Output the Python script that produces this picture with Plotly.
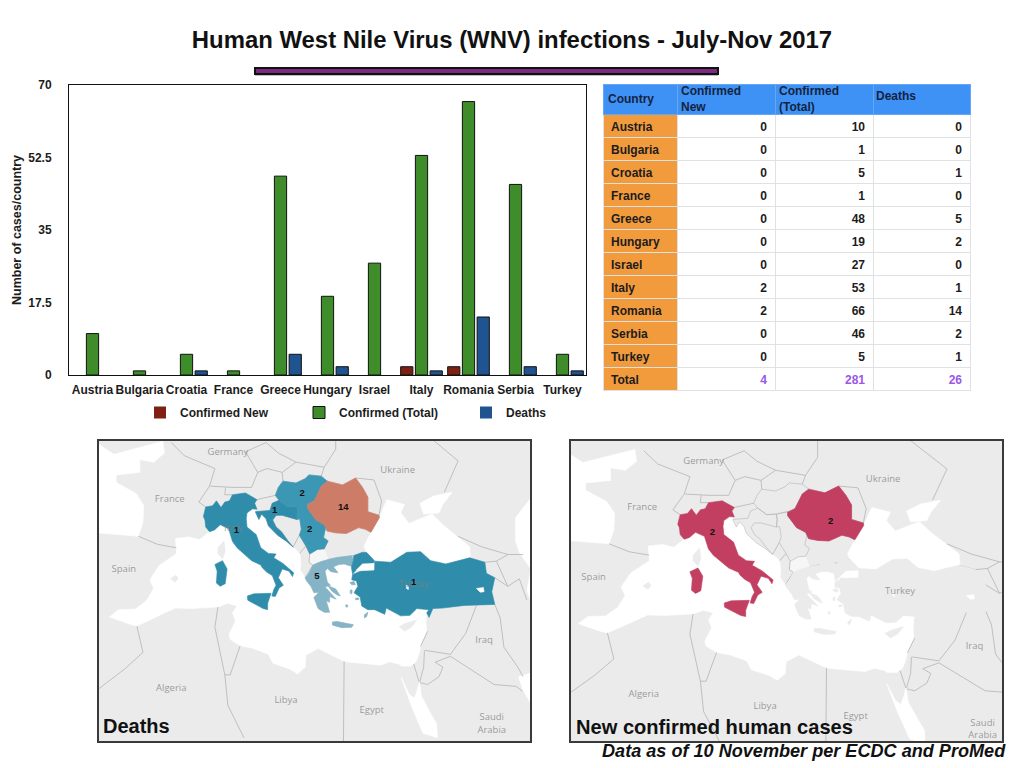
import math

import plotly.graph_objects as go

# chart data
countries = ["Austria", "Bulgaria", "Croatia", "France", "Greece", "Hungary", "Israel", "Italy", "Romania", "Serbia", "Turkey"]
confirmed_new = [0, 0, 0, 0, 0, 0, 0, 2, 2, 0, 0]
confirmed_total = [10, 1, 5, 1, 48, 19, 27, 53, 66, 46, 5]
deaths = [0, 0, 1, 0, 5, 2, 0, 1, 14, 2, 1]
y_ticks = [0, 17.5, 35, 52.5, 70]

totals = ["4", "281", "26"]
header_labels = ["Country", "Confirmed<br>New", "Confirmed<br>(Total)", "Deaths"]

# map outlines, (lon, lat)
italy = [(7.5, 43.8), (7.0, 44.2), (6.9, 44.8), (6.7, 45.1), (7.0, 45.9), (7.9, 46.0), (8.4, 46.4), (9.0, 45.85), (9.5, 46.3),
         (10.1, 46.4), (10.5, 46.9), (12.2, 47.05), (13.7, 46.5), (13.4, 46.2), (13.7, 45.7), (13.1, 45.75), (12.4, 45.4),
         (12.3, 44.9), (12.4, 44.2), (13.6, 43.55), (14.2, 42.4), (15.2, 41.9), (16.2, 41.85), (15.9, 41.5), (17.1, 41.0),
         (18.5, 40.15), (18.35, 39.8), (17.9, 40.3), (17.0, 40.5), (16.6, 39.9), (16.5, 39.7), (17.15, 39.0), (16.6, 38.75),
         (16.1, 37.95), (15.65, 38.0), (15.9, 38.6), (16.2, 39.0), (15.7, 39.9), (15.0, 40.2), (14.4, 40.6), (14.2, 40.85),
         (13.0, 41.25), (12.2, 41.75), (11.1, 42.4), (10.5, 42.95), (10.2, 43.6), (10.0, 44.05), (8.9, 44.4), (8.15, 43.95)]
sicily = [(12.45, 38.0), (13.3, 38.2), (15.55, 38.25), (15.1, 37.3), (15.1, 36.7), (14.5, 36.8), (12.5, 37.6)]
sardinia = [(8.2, 40.9), (9.2, 41.25), (9.8, 40.5), (9.55, 39.15), (8.9, 38.9), (8.4, 39.2), (8.5, 40.3)]
greece = [(20.0, 39.7), (20.5, 40.1), (21.0, 40.85), (22.0, 41.15), (23.0, 41.35), (24.3, 41.55), (26.1, 41.7), (26.3, 41.25),
          (26.05, 40.75), (25.1, 40.95), (24.4, 40.9), (23.7, 40.7), (24.3, 40.15), (23.4, 40.25), (22.9, 40.55), (22.6, 40.3),
          (22.9, 39.3), (23.3, 39.0), (22.6, 38.85), (24.05, 37.7), (23.2, 37.95), (23.2, 37.4), (22.75, 37.55), (23.2, 36.45),
          (22.5, 36.45), (21.7, 36.8), (21.15, 37.85), (21.8, 38.35), (21.15, 38.3), (20.75, 38.9), (20.2, 39.4)]
crete = [(23.55, 35.5), (24.2, 35.55), (25.5, 35.35), (26.3, 35.25), (26.1, 35.0), (24.8, 34.95), (23.6, 35.2)]
euboea = [(23.0, 38.95), (24.0, 38.65), (24.6, 38.0), (24.2, 38.1), (23.5, 38.45)]
lesbos = [(25.85, 39.25), (26.4, 39.35), (26.55, 39.05), (26.1, 39.05)]
chios = [(25.9, 38.55), (26.15, 38.55), (26.1, 38.2), (25.9, 38.25)]
rhodes = [(27.75, 36.2), (28.2, 36.45), (28.05, 36.05), (27.75, 35.9)]
naxos = [(25.3, 37.15), (25.55, 37.15), (25.55, 36.95), (25.35, 36.95)]
samos = [(26.6, 37.8), (27.05, 37.8), (26.95, 37.65), (26.6, 37.65)]
turkey = [(26.2, 40.0), (27.5, 40.35), (29.0, 40.4), (29.1, 41.2), (31.2, 41.1), (33.3, 42.0), (35.1, 42.05), (36.4, 41.25),
          (38.4, 40.95), (41.5, 41.5), (43.5, 41.1), (43.7, 40.1), (44.8, 39.7), (44.4, 38.4), (44.8, 37.2), (42.4, 37.1),
          (40.8, 37.1), (38.0, 36.85), (36.7, 36.8), (36.2, 35.95), (35.9, 36.4), (36.2, 36.7), (34.6, 36.8), (33.7, 36.15),
          (32.5, 36.1), (30.6, 36.85), (30.4, 36.25), (29.1, 36.7), (28.2, 36.7), (27.4, 37.05), (27.2, 37.9), (26.4, 38.3),
          (26.9, 38.9), (26.7, 39.4), (26.1, 39.5)]
thrace = [(26.05, 40.65), (26.3, 41.25), (26.35, 41.7), (27.5, 42.0), (28.05, 41.98), (29.05, 41.25), (28.9, 41.0),
          (27.5, 40.95), (26.75, 40.45), (26.2, 40.05)]
romania = [(22.9, 48.0), (24.9, 47.7), (26.6, 48.25), (27.5, 47.5), (28.2, 46.7), (28.2, 45.5), (29.65, 45.2), (29.7, 45.0),
           (28.6, 43.75), (27.9, 44.0), (27.0, 44.15), (25.4, 43.65), (24.0, 43.7), (22.9, 43.85), (22.5, 44.4), (22.0, 44.6),
           (21.4, 44.8), (20.3, 45.8), (20.3, 46.1), (21.2, 46.4), (22.1, 47.6)]
hungary = [(16.1, 46.85), (16.5, 47.5), (17.1, 48.0), (18.8, 47.85), (20.0, 48.2), (20.5, 48.5), (22.1, 48.4), (22.9, 48.0),
           (22.1, 47.6), (21.2, 46.4), (20.3, 46.15), (18.9, 45.95), (17.7, 45.9), (16.6, 46.45)]
croatia = [(13.5, 45.5), (13.95, 44.85), (14.3, 45.3), (14.9, 44.9), (15.2, 44.3), (16.4, 43.5), (17.6, 42.95), (18.45, 42.45),
           (17.7, 43.05), (16.9, 43.8), (16.2, 44.2), (15.75, 44.8), (16.2, 45.2), (17.0, 45.2), (18.9, 44.85), (19.0, 45.5),
           (18.9, 45.95), (17.7, 45.9), (16.6, 46.45), (15.7, 46.2), (15.4, 45.6)]
serbia = [(18.9, 45.95), (20.3, 46.15), (20.3, 45.8), (21.4, 44.8), (22.0, 44.6), (22.5, 44.4), (22.7, 44.2), (22.4, 43.3),
          (23.0, 43.0), (22.5, 42.3), (21.6, 42.25), (20.6, 41.85), (20.1, 42.55), (19.25, 43.5), (19.5, 44.0), (19.3, 44.9),
          (18.9, 44.85), (19.0, 45.5)]
macedonia = [(20.5, 41.1), (20.6, 41.85), (21.6, 42.25), (22.5, 42.3), (23.0, 41.35), (22.0, 41.15), (21.0, 40.85)]

mediterranean = [(-5.6, 36.0), (-4.4, 36.7), (-2.2, 36.75), (-0.7, 37.6), (0.2, 38.7), (-0.3, 39.5), (0.9, 40.8), (3.2, 41.9),
                 (3.05, 43.2), (4.8, 43.35), (6.2, 43.1), (7.5, 43.8), (8.15, 43.95), (8.9, 44.4), (10.0, 44.2), (12.4, 45.4),
                 (13.6, 45.7), (13.5, 45.5), (13.95, 44.85), (14.3, 45.3), (14.9, 44.9), (15.2, 44.3), (16.4, 43.5),
                 (17.6, 42.95), (18.45, 42.45), (19.3, 41.9), (19.45, 41.0), (19.35, 40.4), (20.0, 39.7), (22.6, 40.2),
                 (22.9, 40.6), (23.7, 40.7), (24.4, 40.9), (25.1, 40.95), (26.05, 40.75), (26.2, 40.4), (26.75, 40.45),
                 (26.6, 40.0), (27.5, 38.5), (28.5, 36.9), (30.6, 37.2), (34.6, 37.0), (36.0, 36.9), (35.8, 35.5), (35.9, 34.5),
                 (35.5, 33.9), (35.1, 33.1), (34.9, 32.4), (34.5, 31.55), (33.8, 31.1), (32.6, 31.1), (32.3, 31.3), (31.0, 31.55),
                 (29.9, 31.2), (27.2, 31.4), (25.2, 31.55), (23.2, 32.3), (21.7, 32.9), (20.1, 32.2), (20.0, 31.0), (19.0, 30.3),
                 (18.0, 30.8), (15.8, 31.4), (15.2, 32.3), (13.2, 32.9), (11.5, 33.15), (10.2, 33.8), (10.05, 34.3), (10.9, 35.6),
                 (10.5, 36.4), (11.1, 37.05), (9.9, 37.3), (8.6, 36.95), (5.0, 36.8), (3.0, 36.85), (0.0, 35.85), (-2.0, 35.1),
                 (-3.0, 35.3), (-5.3, 35.9)]
black_sea = [(28.05, 41.98), (27.7, 42.5), (28.6, 43.75), (29.7, 45.0), (30.7, 46.5), (33.0, 46.1), (32.5, 45.4), (33.6, 44.5),
             (35.4, 45.0), (36.6, 45.3), (38.0, 44.4), (39.5, 43.6), (41.5, 42.5), (41.6, 41.5), (38.4, 40.95), (36.4, 41.25),
             (35.1, 42.05), (33.3, 42.0), (31.2, 41.1), (29.1, 41.2)]
azov = [(35.0, 46.2), (36.8, 46.8), (39.2, 47.1), (38.0, 46.1), (37.5, 45.4), (35.5, 45.3)]
atlantic = [(-10, 36.5), (-9.3, 38.7), (-9.3, 43.1), (-8, 43.75), (-1.8, 43.4), (-1.2, 44.6), (-1.1, 46.0), (-2.1, 47.0), (-4.7, 47.9),
            (-4.7, 48.5), (-1.6, 48.7), (-1.6, 49.7), (0.2, 49.5), (1.6, 50.2), (1.4, 51.1), (-0.5, 50.8), (-5, 50.1), (-10, 52)]
caspian = [(49.5, 37.5), (49, 38.5), (49.5, 40.5), (48, 42), (47.5, 43), (47.5, 45), (50, 47), (55, 47), (55, 36), (52, 36.7)]
persian_gulf = [(47.9, 30), (48.5, 28.6), (49.5, 27.2), (50, 26.2), (56, 24), (56, 32)]
red_sea = [(32.55, 29.95), (33.2, 28.4), (33.9, 26.9), (35.4, 24.0), (37.3, 23.5), (37.2, 25.0), (36.5, 26), (35.2, 28.0),
           (34.95, 29.5), (34.5, 28.2), (34.25, 27.75), (33.6, 28.2)]
marmara = [(26.7, 40.4), (27.5, 40.35), (29.0, 40.4), (29.0, 41.0), (27.5, 40.95), (26.75, 40.5)]
lake_van = [(42.4, 38.7), (43.3, 38.8), (43.4, 38.4), (42.9, 38.35)]
lake_tuz = [(33.2, 39.0), (33.5, 38.9), (33.5, 38.6), (33.25, 38.7)]

corsica = [(8.6, 42.4), (9.4, 43.0), (9.55, 42.1), (9.2, 41.4), (8.6, 41.9)]
cyprus = [(32.3, 35.05), (33.0, 35.35), (34.6, 35.7), (33.9, 35.0), (33.0, 34.6)]
mallorca = [(2.4, 39.6), (3.1, 39.95), (3.4, 39.6), (3.0, 39.3)]

borders = [
    [(-1.8, 43.4), (0.7, 42.7), (3.15, 42.4)],
    [(7.0, 45.9), (6.1, 46.3), (7.5, 47.6), (8.2, 49.0), (6.2, 49.5), (4.2, 50.0), (2.5, 51.0)],
    [(7.6, 47.6), (9.6, 47.5), (10.5, 47.5), (13.0, 47.5), (13.8, 48.7), (12.2, 50.3), (14.9, 51.0)],
    [(9.6, 47.5), (9.5, 46.9), (10.5, 46.9)],
    [(13.8, 48.7), (15, 49), (17, 48.7), (17.1, 48.0)],
    [(14.9, 51), (16.5, 50.2), (18.8, 49.5), (22.5, 49.1), (22.1, 48.4)],
    [(17, 48.7), (18.8, 49.5)],
    [(13.7, 46.5), (16.1, 46.85)],
    [(22.5, 49.1), (24, 50.5), (24, 52)],
    [(26.6, 48.25), (29.0, 48.1), (30.0, 46.4), (29.65, 45.2)],
    [(35, 52), (40, 49.6), (38.2, 47.1)],
    [(40, 43.4), (43, 42.5), (46.5, 41.8), (48.5, 41.8)],
    [(41.5, 41.5), (43.5, 41.1), (45, 41.2), (46.5, 41.8)],
    [(45, 41.2), (46.5, 38.9)],
    [(44.8, 39.7), (46.5, 38.9), (48, 39.6), (49, 37.6)],
    [(44.8, 37.2), (45.5, 35.9), (46, 33), (47.8, 31), (48.5, 30)],
    [(42.4, 37.1), (41.0, 34.4), (39, 32.3), (35.7, 32.7)],
    [(39, 32.1), (44.7, 29.2), (47.6, 29), (48.4, 28.5)],
    [(36, 34.6), (35.1, 33.1)],
    [(35.6, 32.7), (35.5, 31), (35, 29.5)],
    [(34.2, 31.3), (34.9, 29.5)],
    [(35, 29.4), (36, 29.2), (37.5, 30), (38, 31), (37, 31.5), (39, 32.1)],
    [(25.1, 31.6), (25, 22)],
    [(11.5, 33.15), (10.2, 30.2), (9.5, 30.2), (9.9, 27), (12, 23.5)],
    [(8.6, 36.95), (8.2, 35), (9.5, 30.2)],
    [(-2, 35.1), (-1.2, 32.5), (-3.6, 30.8), (-8.7, 27.7)],
    [(18.45, 42.5), (19.25, 43.5)],
    [(19.3, 41.9), (20.1, 42.55)],
    [(20.6, 41.85), (20.5, 41.1), (21.0, 40.85), (20.0, 39.7)],
    [(22.7, 44.2), (22.9, 43.85)],
    [(26.1, 41.7), (26.35, 41.7), (28.05, 41.98)],
    [(23.0, 41.35), (24.3, 41.55)],
]

place_names = ["Germany", "Ukraine", "France", "Spain", "Turkey", "Iraq", "Algeria", "Libya", "Egypt", "Saudi<br>Arabia"]
place_lons = [9.9, 32.1, 2.3, -3.7, 34.2, 43.4, 2.5, 17.5, 28.7, 44.4]
place_lats = [50.2, 48.8, 46.5, 40.4, 39.1, 33.7, 28.8, 27.5, 26.4, 25.0]

deaths_labels = ["2", "1", "14", "2", "1", "5", "1"]
deaths_lons = [19.6, 16.0, 25.0, 20.6, 11.0, 21.55, 34.2]
deaths_lats = [47.0, 45.6, 45.8, 44.0, 43.9, 39.8, 39.2]

new_labels = ["2", "2"]
new_lons = [11.0, 25.6]
new_lats = [44.4, 45.3]

LAND = "#ebebeb"
TEAL = "#2f8dab"
TEAL_MID = "#3c97b4"
TEAL_PALE = "#85b4c6"
SALMON = "#cd7d67"
CRIMSON = "#c23f61"
FONT = "Liberation Sans"


def merc(lat):
    return math.degrees(math.log(math.tan(math.pi / 4 + math.radians(lat) / 2)))


def rings(*polys, close=True):
    xs, ys = [], []
    for poly in polys:
        pts = poly + poly[:1] if close else poly
        xs += [p[0] for p in pts] + [None]
        ys += [merc(p[1]) for p in pts] + [None]
    return xs, ys


def fill_trace(polys, colour, ax, line=None):
    xs, ys = rings(*polys)
    return go.Scatter(
        x=xs, y=ys, mode="lines", fill="toself", fillcolor=colour,
        line={"color": line or colour, "width": 0.6},
        xaxis="x" + ax, yaxis="y" + ax, hoverinfo="skip", showlegend=False,
    )


def map_traces(ax, coloured, labels, lons, lats, names, name_lons, name_lats):
    """Every map layer for one panel, back to front."""
    grey = "#b4b4b4"
    water = [mediterranean, black_sea, azov, atlantic, caspian, persian_gulf, red_sea]
    out = [fill_trace(water, "white", ax)]
    out.append(fill_trace([corsica, cyprus, mallorca], LAND, ax))
    out.append(fill_trace([macedonia], "#f6f6f6", ax))
    bx, by = rings(*borders, close=False)
    out.append(go.Scatter(x=bx, y=by, mode="lines", line={"color": grey, "width": 0.8}, xaxis="x" + ax, yaxis="y" + ax,
                          hoverinfo="skip", showlegend=False))
    base = [greece, crete, euboea, lesbos, chios, rhodes, naxos, samos, turkey, thrace]
    for poly in base:
        out.append(fill_trace([poly], LAND, ax))
    for poly in [croatia, hungary, serbia, romania]:
        out.append(fill_trace([poly], "rgba(0,0,0,0)", ax, line=grey))
    for polys, colour in coloured:
        out.append(fill_trace(polys, colour, ax))
    out.append(fill_trace([marmara, lake_van, lake_tuz], "white", ax))
    out.append(go.Scatter(
        x=name_lons, y=[merc(v) for v in name_lats], text=names, mode="text",
        textfont={"family": "Open Sans", "size": 9.5, "color": "rgba(125,125,125,0.75)"},
        xaxis="x" + ax, yaxis="y" + ax, hoverinfo="skip", showlegend=False,
    ))
    out.append(go.Scatter(
        x=lons, y=[merc(v) for v in lats], text=labels, mode="text",
        textfont={"family": FONT, "size": 9.5, "color": "#111111", "weight": "bold"},
        xaxis="x" + ax, yaxis="y" + ax, hoverinfo="skip", showlegend=False,
    ))
    return out


def px_x(v):
    return v / 1024


def px_y(v):
    return 1 - v / 768


fig = go.Figure()

# bars
for name, values, colour, entry in [
    ("Confirmed New", confirmed_new, "#7f2014", 114),
    ("Confirmed (Total)", confirmed_total, "#3f8c2a", 122),
    ("Deaths", deaths, "#1f5490", 60),
]:
    fig.add_trace(go.Bar(
        x=countries, y=values, name=name, legendwidth=entry,
        marker={"color": colour, "line": {"color": "#111111", "width": [1 if v else 0 for v in values]}},
    ))

# maps
deaths_colours = [
    ([italy, sicily, sardinia], TEAL),
    ([croatia], TEAL),
    ([hungary, serbia], TEAL_MID),
    ([romania], SALMON),
    ([greece, crete, euboea, lesbos, chios, rhodes, naxos, samos], TEAL_PALE),
    ([turkey, thrace], TEAL),
]
for tr in map_traces("2", deaths_colours, deaths_labels, deaths_lons, deaths_lats,
                     place_names + ["Italy"], place_lons + [10.6], place_lats + [44.1]):
    fig.add_trace(tr)

new_colours = [([italy, sicily, sardinia], CRIMSON), ([romania], CRIMSON)]
for tr in map_traces("3", new_colours, new_labels, new_lons, new_lats, place_names, place_lons, place_lats):
    fig.add_trace(tr)

# table; the two-line header text sits on top as annotations because table cells pad too much
rows = countries + ["Total"]
col_new = [str(v) for v in confirmed_new] + [totals[0]]
col_total = [str(v) for v in confirmed_total] + [totals[1]]
col_deaths = [str(v) for v in deaths] + [totals[2]]
ink = "#1c1c1c"
purple = "#9a57e8"
num_colours = [ink] * len(countries) + [purple]
fig.add_trace(go.Table(
    domain={"x": [px_x(603), px_x(970)], "y": [px_y(393), px_y(84)]},
    columnwidth=[74, 98, 98, 97],
    header={
        "values": ["", "", "", ""],
        "fill": {"color": "#3f92f5"},
        "line": {"color": "#63a8f7", "width": 1},
        "height": 30,
    },
    cells={
        "values": [rows, col_new, col_total, col_deaths],
        "fill": {"color": ["#f29b3c", "white", "white", "white"]},
        "line": {"color": "#dfe1e3", "width": 1},
        "font": {"family": FONT, "size": 12, "color": [[ink] * len(rows), num_colours, num_colours, num_colours], "weight": "bold"},
        "align": ["left", "right", "right", "right"],
        "height": 23,
    },
))

axis_font = {"family": FONT, "size": 12, "color": "#1c1c1c", "weight": "bold"}
hidden = {"showgrid": False, "zeroline": False, "showticklabels": False, "ticks": "", "showline": True, "mirror": True,
          "linecolor": "#3a3a3a", "linewidth": 1.5, "fixedrange": True}
header_font = {"family": FONT, "size": 12, "color": "#14233f", "weight": "bold"}
header_annotations = [
    {"text": label, "xref": "paper", "yref": "paper", "x": px_x(x), "y": px_y(y), "xanchor": "left", "yanchor": "middle",
     "align": "left", "showarrow": False, "font": header_font}
    for label, x, y in zip(header_labels, [606, 679, 777, 874], [99, 99, 99, 96])
]

fig.update_layout(
    width=1024,
    height=768,
    margin={"l": 0, "r": 0, "t": 0, "b": 0, "autoexpand": False},
    paper_bgcolor="white",
    plot_bgcolor="rgba(0,0,0,0)",
    font={"family": FONT},
    title={
        "text": "Human West Nile Virus (WNV) infections - July-Nov 2017",
        "x": 0.5, "xanchor": "center", "y": px_y(40), "yanchor": "middle",
        "font": {"family": FONT, "size": 23.9, "color": "#111111", "weight": "bold"},
    },
    barmode="group",
    bargap=0.06,
    bargroupgap=0.17,
    xaxis={
        "domain": [px_x(69), px_x(586)], "anchor": "y", "type": "category", "tickfont": axis_font, "tickangle": 0,
        "showline": True, "mirror": True, "linecolor": "#111111", "linewidth": 1,
        "ticks": "outside", "ticklen": 4, "tickcolor": "rgba(0,0,0,0)", "showgrid": False, "zeroline": False,
    },
    yaxis={
        "domain": [px_y(375), px_y(85)], "anchor": "x", "range": [0, 70], "tickvals": y_ticks,
        "ticktext": ["0", "17.5", "35", "52.5", "70"], "tickfont": axis_font,
        "title": {"text": "Number of cases/country", "font": {"family": FONT, "size": 12.5, "color": "#1c1c1c", "weight": "bold"}, "standoff": 3},
        "showline": True, "mirror": True, "linecolor": "#111111", "linewidth": 1,
        "ticks": "outside", "ticklen": 14, "tickcolor": "rgba(0,0,0,0)", "showgrid": False, "zeroline": False,
    },
    xaxis2={"domain": [px_x(99), px_x(530)], "anchor": "y2", "range": [-6.95, 49.4], **hidden},
    yaxis2={"domain": [px_y(741), px_y(441)], "anchor": "x2", "range": [23.8, 59.66], **hidden},
    xaxis3={"domain": [px_x(571), px_x(1002)], "anchor": "y3", "range": [-6.5, 46.8], **hidden},
    yaxis3={"domain": [px_y(741), px_y(441)], "anchor": "x3", "range": [24.5, 60.66], **hidden},
    legend={
        "orientation": "h", "x": px_x(140), "y": px_y(398), "xanchor": "left", "yanchor": "top",
        "font": {"family": FONT, "size": 12, "color": "#1c1c1c", "weight": "bold"},
        "bgcolor": "rgba(0,0,0,0)",
    },
    shapes=[
        {"type": "rect", "xref": "paper", "yref": "paper", "x0": px_x(255), "x1": px_x(718), "y0": px_y(76), "y1": px_y(70),
         "fillcolor": "#bdbdbd", "line": {"width": 0}},
        {"type": "rect", "xref": "paper", "yref": "paper", "x0": px_x(255), "x1": px_x(718), "y0": px_y(74), "y1": px_y(68),
         "fillcolor": "#7b2a80", "line": {"color": "#111111", "width": 2}},
        {"type": "rect", "xref": "paper", "yref": "paper", "x0": px_x(99), "x1": px_x(530), "y0": px_y(741), "y1": px_y(441),
         "fillcolor": LAND, "line": {"width": 0}, "layer": "below"},
        {"type": "rect", "xref": "paper", "yref": "paper", "x0": px_x(571), "x1": px_x(1002), "y0": px_y(741), "y1": px_y(441),
         "fillcolor": LAND, "line": {"width": 0}, "layer": "below"},
    ],
    annotations=header_annotations + [
        {"text": "Deaths", "xref": "paper", "yref": "paper", "x": px_x(101), "y": px_y(726), "xanchor": "left", "yanchor": "middle",
         "showarrow": False, "font": {"family": FONT, "size": 20, "color": "#111111", "weight": "bold"}},
        {"text": "New confirmed human cases", "xref": "paper", "yref": "paper", "x": px_x(574), "y": px_y(727), "xanchor": "left",
         "yanchor": "middle", "showarrow": False, "font": {"family": FONT, "size": 20.1, "color": "#111111", "weight": "bold"}},
        {"text": "Data as of 10 November per ECDC and ProMed", "xref": "paper", "yref": "paper", "x": px_x(1008), "y": px_y(751),
         "xanchor": "right", "yanchor": "middle", "showarrow": False,
         "font": {"family": FONT, "size": 18.1, "color": "#111111", "weight": "bold", "style": "italic"}},
    ],
)

fig.write_html("out.html", config={"displayModeBar": False}, post_script="document.body.style.margin='0';")
